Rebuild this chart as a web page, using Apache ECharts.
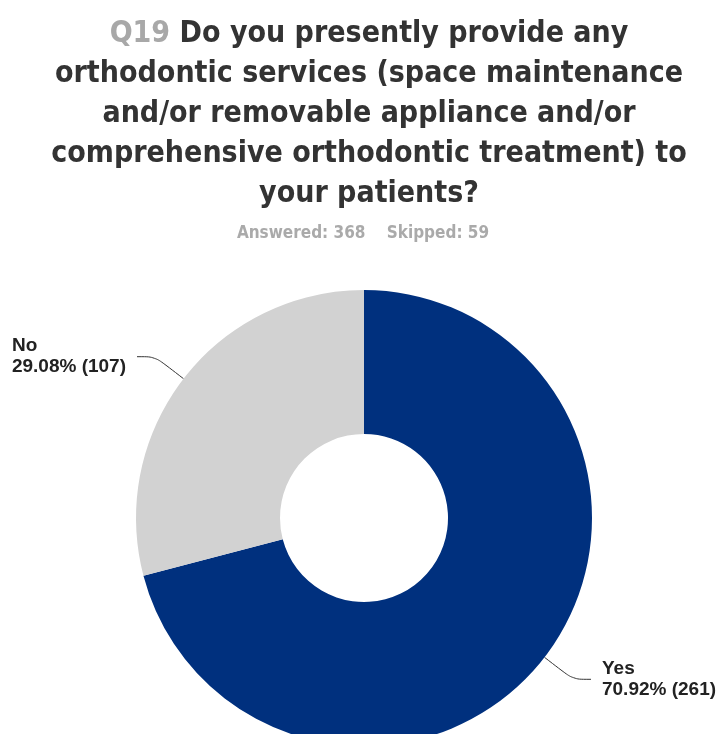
<!DOCTYPE html>
<html>
<head>
<meta charset="utf-8">
<script src="https://cdn.jsdelivr.net/npm/echarts@6/dist/echarts.min.js"></script>
<style>html,body{margin:0;padding:0;background:#fff}#c{width:723px;height:734px}</style>
</head>
<body>
<div id="c"></div>
<script>
const categories = ["Yes", "No"];
const counts = [261, 107];
const percents = ["70.92%", "29.08%"];
const colors = ["#00307e", "#d2d2d2"];
const questionNo = "Q19";
const titleLines = [
  "Do you presently provide any",
  "orthodontic services (space maintenance",
  "and/or removable appliance and/or",
  "comprehensive orthodontic treatment) to",
  "your patients?"
];
const answered = 368;
const skipped = 59;

const narrow = "'Liberation Sans Narrow', 'Arial Narrow', 'DejaVu Sans Condensed', sans-serif";
const chart = echarts.init(document.getElementById('c'));
const titleText = '{q|' + questionNo + '} {t|' + titleLines[0] + '}\n' +
  titleLines.slice(1).map(l => '{t|' + l + '}').join('\n');

chart.setOption({
  animation: false,
  title: [{
    text: titleText,
    left: 364,
    top: 9,
    textAlign: 'center',
    textStyle: {
      fontFamily: narrow, fontWeight: 'bold', fontSize: 30, color: '#333', lineHeight: 40,
      rich: {
        q: {fontFamily: narrow, fontWeight: 'bold', fontSize: 30, color: '#a8a8a8', lineHeight: 40},
        t: {fontFamily: narrow, fontWeight: 'bold', fontSize: 30, color: '#333', lineHeight: 40}
      }
    }
  }, {
    text: 'Answered: ' + answered + '    Skipped: ' + skipped,
    left: 358,
    top: 220,
    textAlign: 'center',
    textStyle: {fontFamily: narrow, fontWeight: 'bold', fontSize: 17, color: '#aaaaaa'}
  }],
  series: [{
    type: 'pie',
    center: [364, 518],
    radius: [84, 228],
    startAngle: 90,
    clockwise: true,
    avoidLabelOverlap: false,
    label: {
      show: true,
      formatter: p => '{n|' + p.name + '}\n{v|' + percents[p.dataIndex] + ' (' + p.value + ')}',
      rich: {
        n: {fontFamily: 'Liberation Sans, Arial, sans-serif', fontWeight: 'bold', fontSize: 19, color: '#222', lineHeight: 21, align: 'left'},
        v: {fontFamily: 'Liberation Sans, Arial, sans-serif', fontWeight: 'bold', fontSize: 19, color: '#222', lineHeight: 21, align: 'left'}
      },
      distanceToLabelLine: 11
    },
    labelLine: {
      show: true, length: 36, length2: 18, smooth: 0.3,
      lineStyle: {color: '#333', width: 1}
    },
    emphasis: {disabled: true},
    data: categories.map((c, i) => ({name: c, value: counts[i], itemStyle: {color: colors[i]}}))
  }]
});
</script>
</body>
</html>
